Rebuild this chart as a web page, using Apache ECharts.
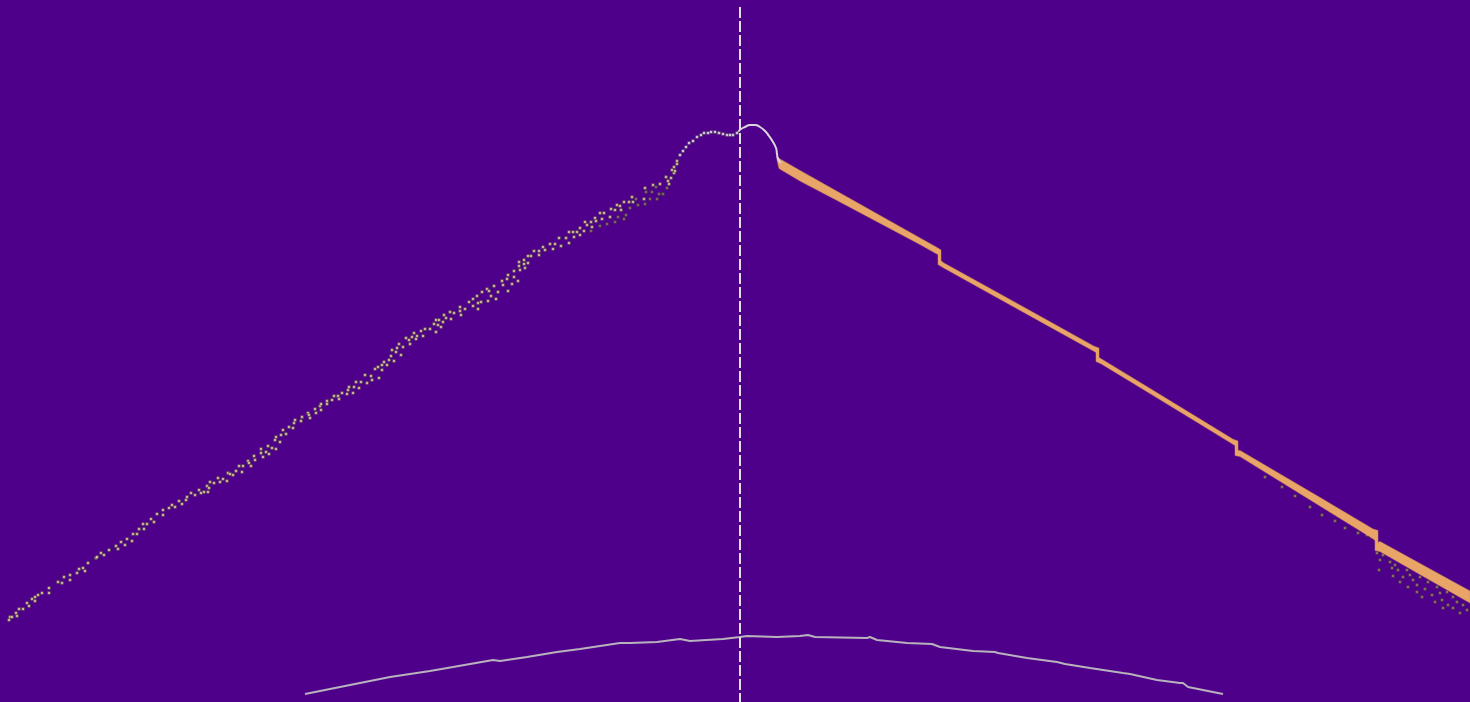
<!DOCTYPE html>
<html>
<head>
<meta charset="utf-8">
<script src="https://cdn.jsdelivr.net/npm/echarts@6/dist/echarts.min.js"></script>
<style>
    html, body {margin: 0; padding: 0; background: #4e008b;}
    #chart {width: 1470px; height: 702px;}
</style>
</head>
<body>
<div id="chart"></div>
<script>
// all values are in picture units: x to the right, y downwards
const xRange = [0, 1470];
const yRange = [7, 702];
const cursorX = 740;

// rising scatter on the left
const leftDots = [
    [9, 620], [10, 617], [12, 617], [16, 613], [17, 616], [19, 609], [23, 609], [27, 603], [29, 606], [32, 599],
    [35, 597], [35, 601], [38, 595], [42, 593], [49, 593], [49, 588], [58, 582], [62, 583], [64, 577], [70, 575],
    [70, 580], [77, 573], [79, 569], [83, 568], [85, 571], [88, 563], [96, 558], [97, 557], [101, 553], [104, 555],
    [109, 550], [116, 546], [118, 549], [121, 542], [125, 545], [127, 539], [132, 541], [133, 534], [137, 534], [139, 529],
    [144, 529], [143, 524], [147, 524], [151, 519], [154, 522], [157, 514], [163, 515], [163, 510], [169, 508], [172, 505],
    [175, 507], [179, 501], [182, 504], [186, 500], [187, 497], [191, 493], [195, 495], [199, 490], [201, 493], [204, 492],
    [207, 486], [209, 488], [208, 492], [210, 482], [214, 483], [218, 478], [220, 482], [223, 479], [227, 481], [228, 473],
    [230, 474], [233, 475], [236, 471], [239, 466], [242, 472], [243, 466], [248, 461], [249, 463], [251, 466], [254, 456],
    [255, 460], [261, 449], [261, 453], [263, 457], [266, 452], [268, 446], [269, 454], [272, 448], [276, 449], [275, 440],
    [276, 437], [280, 442], [281, 435], [283, 430], [286, 434], [289, 427], [293, 428], [294, 423], [295, 420], [301, 421],
    [302, 417], [308, 413], [309, 415], [310, 418], [315, 409], [316, 413], [320, 406], [321, 404], [321, 410], [327, 404],
    [327, 401], [332, 400], [334, 396], [338, 396], [339, 399], [342, 393], [347, 394], [348, 390], [349, 387], [353, 393],
    [354, 387], [356, 382], [359, 388], [361, 382], [365, 375], [367, 383], [371, 376], [372, 380], [375, 369], [378, 367],
    [379, 378], [382, 365], [382, 370], [384, 362], [387, 365], [389, 360], [391, 356], [392, 350], [394, 361], [396, 352],
    [397, 348], [399, 344], [401, 355], [403, 347], [406, 338], [409, 340], [410, 344], [412, 337], [414, 333], [416, 339],
    [417, 336], [421, 331], [423, 336], [425, 329], [430, 329], [434, 324], [436, 320], [436, 332], [438, 325], [439, 320],
    [441, 327], [443, 322], [444, 315], [446, 318], [450, 312], [451, 319], [454, 313], [460, 307], [460, 311], [461, 315],
    [465, 309], [469, 302], [473, 299], [473, 306], [477, 296], [478, 303], [478, 309], [481, 302], [482, 292], [487, 289],
    [489, 291], [488, 301], [491, 296], [494, 286], [496, 299], [498, 292], [502, 281], [503, 285], [507, 279], [508, 291],
    [508, 275], [512, 284], [514, 271], [514, 277], [518, 281], [519, 266], [519, 262], [520, 270], [524, 260], [524, 264],
    [525, 268], [528, 263], [528, 256], [531, 256], [534, 251], [539, 251], [539, 255], [543, 247], [545, 250], [550, 244],
    [553, 249], [555, 244], [559, 238], [561, 246], [566, 238], [569, 243], [569, 232], [573, 232], [574, 237], [577, 232],
    [580, 235], [580, 228], [584, 231], [585, 222], [587, 225], [591, 222], [592, 227], [595, 218], [596, 221], [600, 213],
    [602, 219], [604, 213], [610, 217], [611, 209], [615, 210], [617, 205], [620, 206], [621, 210], [624, 202], [629, 202],
    [632, 197], [633, 202], [644, 199], [645, 188], [653, 185], [660, 184], [666, 177], [668, 181], [669, 184], [671, 178],
    [672, 170], [674, 173], [674, 167], [675, 171], [677, 164], [677, 161]
];

// darker dots that fall below the ridge near the top
const leftDimDots = [
    [591, 231], [600, 226], [607, 224], [615, 222], [618, 217], [624, 219], [626, 215], [630, 208], [636, 199], [638, 205],
    [645, 204], [646, 192], [650, 199], [652, 192], [656, 187], [657, 199], [659, 194], [663, 194], [667, 188]
];

// white dots at the summit, left of the cursor
const peakDots = [
    [680, 155], [683, 151], [686, 147], [689, 143], [693, 141], [697, 137], [701, 135], [704, 133], [708, 133], [711, 132],
    [715, 132], [719, 133], [723, 134], [727, 135], [730, 135], [733, 135], [737, 133]
];

// summit line right of the cursor, running into the band
const peakLine = [
    [738, 132], [741, 129], [745, 127], [750, 125], [755, 125], [760, 127], [765, 131], [769, 136], [773, 142], [776, 148],
    [777, 154], [778, 159], [781, 163]
];

// falling orange band, upper and lower edge
const bandTop = [
    [777, 156], [780, 159], [800, 170.5], [840, 193], [880, 215.5], [920, 238], [937, 247.5], [941, 250], [941, 260.5], [943, 262.5],
    [1000, 294], [1050, 321.8], [1094, 346.2], [1099, 348], [1099, 357.5], [1101, 358.7], [1150, 388.5], [1200, 419.1],
    [1233, 439.2], [1238, 441], [1238, 450.5], [1240, 450.5], [1280, 474], [1320, 497.5], [1373, 529], [1378, 530.5],
    [1378, 542.5], [1380, 541.5], [1420, 563.5], [1470, 591]
];
const bandBottom = [
    [777, 160], [779, 168.5], [800, 181], [840, 202], [880, 223.2], [920, 244.5], [936, 253.5], [938, 254.5], [938, 264.5], [943, 267.6],
    [1000, 299.2], [1050, 326.9], [1094, 351.3], [1096, 352.5], [1096, 361.5], [1101, 363.7], [1150, 393.5], [1200, 424.1],
    [1233, 444.3], [1235, 445.5], [1235, 455.5], [1240, 456.6], [1280, 481.3], [1320, 506], [1373, 538.8], [1375, 540.5],
    [1375, 550.5], [1380, 551.6], [1420, 574.5], [1470, 603]
];

// loose dots under the band near the right edge
const bandDots = [
    [1265, 477], [1282, 487], [1295, 496], [1310, 507], [1322, 515], [1335, 521], [1345, 528], [1353, 523], [1358, 533], [1367, 535],
    [1372, 537], [1377, 553], [1380, 560], [1379, 570], [1383, 555], [1390, 562], [1392, 568], [1395, 565], [1398, 570], [1393, 576],
    [1400, 582], [1403, 577], [1407, 570], [1410, 575], [1408, 587], [1413, 580], [1417, 585], [1417, 592], [1420, 577], [1422, 597],
    [1425, 589], [1428, 582], [1432, 595], [1435, 602], [1437, 587], [1440, 593], [1442, 600], [1443, 608], [1447, 592], [1448, 605],
    [1453, 597], [1453, 608], [1457, 602], [1460, 613], [1463, 605], [1467, 610], [1468, 599]
];

// low gray arc at the bottom
const arcLine = [
    [305, 694], [330, 689], [370, 681], [390, 677], [430, 671], [453, 667], [493, 660], [500, 661], [527, 657], [557, 652],
    [580, 649], [620, 643], [630, 643], [657, 642], [680, 639], [690, 641], [723, 639], [740, 637], [747, 636], [777, 637],
    [800, 636], [808, 635], [815, 637], [867, 638], [870, 637], [877, 640], [907, 643], [932, 644], [940, 647], [973, 651],
    [995, 652], [998, 653], [1027, 658], [1057, 662], [1065, 664], [1090, 668], [1123, 673], [1130, 674], [1157, 680],
    [1180, 683], [1183, 683], [1188, 687], [1223, 694]
];

const dotStyle = (color) => ({
    color: color,
    borderColor: 'rgba(40, 25, 45, 0.45)',
    borderWidth: 1
});

const chart = echarts.init(document.getElementById('chart'));

chart.setOption({
    backgroundColor: '#4e008b',
    animation: false,
    grid: {left: 0, right: 0, top: 7, bottom: 0},
    xAxis: {type: 'value', min: xRange[0], max: xRange[1], show: false},
    yAxis: {type: 'value', min: yRange[0], max: yRange[1], inverse: true, show: false},
    series: [
        {
            type: 'line',
            data: arcLine,
            symbol: 'none',
            lineStyle: {color: '#b8b2bc', width: 2},
            z: 1
        },
        {
            type: 'scatter',
            data: leftDots,
            symbol: 'rect',
            symbolSize: 3,
            itemStyle: dotStyle('#eadb9c'),
            z: 2
        },
        {
            type: 'scatter',
            data: leftDimDots,
            symbol: 'rect',
            symbolSize: 3,
            itemStyle: dotStyle('#8a7a62'),
            z: 2
        },
        {
            type: 'scatter',
            data: bandDots,
            symbol: 'rect',
            symbolSize: 3,
            itemStyle: dotStyle('#9c8460'),
            z: 2
        },
        {
            type: 'custom',
            data: bandTop,
            renderItem: function (params, api) {
                // whole band is one polygon, drawn once
                if (params.dataIndex !== 0) return;
                const points = bandTop.concat(bandBottom.slice().reverse()).map(p => api.coord(p));
                return {
                    type: 'polygon',
                    shape: {points: points},
                    style: {fill: '#e9a468', stroke: '#d38f52', lineWidth: 0.5}
                };
            },
            z: 3
        },
        {
            type: 'scatter',
            data: peakDots,
            symbol: 'rect',
            symbolSize: 3,
            itemStyle: dotStyle('#f4f0f4'),
            z: 4
        },
        {
            type: 'line',
            data: peakLine,
            symbol: 'none',
            smooth: true,
            lineStyle: {color: '#ddd6dc', width: 2},
            z: 4,
            markLine: {
                silent: true,
                symbol: 'none',
                label: {show: false},
                lineStyle: {color: '#e2dee6', width: 2, type: [11, 3]},
                data: [{xAxis: cursorX}]
            }
        }
    ]
});

window.addEventListener('resize', () => chart.resize());
</script>
</body>
</html>
